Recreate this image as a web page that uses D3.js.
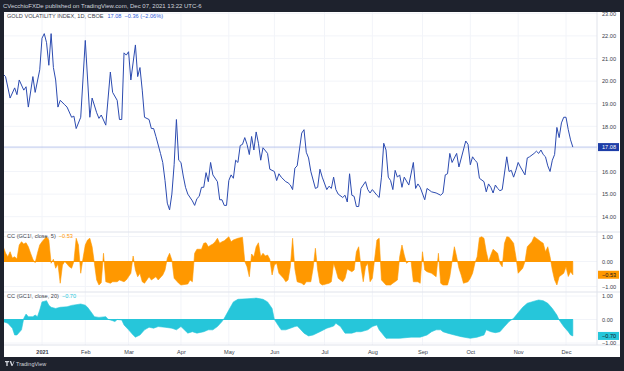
<html>
<head>
    <title>Gold volatility index</title>
    <script src="https://cdn.jsdelivr.net/npm/d3@7"></script>
    <style>
        body { margin: 0; background: #1e222d; }
        svg { display: block; font-family: "Liberation Sans", Arial, sans-serif; }
    </style>
</head>
<body>
    <svg id="chart"></svg>
<script>
//Global Variables
const WIDTH = 624
const HEIGHT = 371
const FRAME_COLOR = "#1e222d"
const LINE_COLOR = "#2c4bb0"
const CC5_COLOR = "#ff9800"
const CC20_COLOR = "#26c6da"
const GRID_COLOR = "#f2f4f9"
const BORDER_COLOR = "#e0e3eb"
const TEXT_COLOR = "#3a3e4a"

// plot area (white) and panes
const PLOT = {left: 4, right: 620, top: 12, bottom: 357, scale: 597}
const PANES = {
    main: {top: 12, bottom: 232},
    cc5: {top: 232, bottom: 292},
    cc20: {top: 292, bottom: 345}
}

//-------------------------- Data (trading session index from Jan 4 2021, value) --------------------------
const monthLabels = ["2021", "Feb", "Mar", "Apr", "May", "Jun", "Jul", "Aug", "Sep", "Oct", "Nov", "Dec"]
const monthSessions = [0, 19, 38, 61, 82, 102, 124, 145, 167, 188, 209, 230]
const priceTicks = [14, 15, 16, 17, 18, 19, 20, 21, 22, 23]
const ccTicks = [1, 0, -1]

const gvz = [[-17,20.3],[-16,20.2],[-14,19.25],[-12,19.7],[-11,19.4],[-10,20.05],[-8,19.6],[-7,19.75],[-6,18.85],[-4,20.2],[-3,19.5],[-1,20.5],[0,21.9],[1,22.1],[2,21.7],[3,20.7],[4,22.1],[5,20.6],[6,20.05],[7,18.85],[8,19.15],[10,18.95],[11,18.85],[13,18.4],[14,18.45],[15,17.9],[17,18.4],[19,21.8],[21,18.4],[22,19.25],[24,18.6],[25,18.35],[26,18.5],[28,18.05],[30,20.4],[31,19.5],[33,19.15],[34,18.3],[35,18.3],[36,21.25],[37,21.15],[38,21.3],[39,20.05],[41,21.6],[42,20.2],[43,20.6],[44,19.6],[45,18.4],[47,18.3],[48,17.9],[49,17.9],[50,17.55],[52,16.8],[53,16.4],[54,15.6],[55,14.6],[56,14.3],[57,15.0],[58,16.3],[59,18.3],[60,16.5],[61,16.4],[62,15.8],[63,15.3],[64,15.0],[66,14.7],[67,14.5],[68,14.8],[69,14.9],[70,15.3],[71,15.3],[72,15.95],[73,15.55],[74,16.4],[75,15.85],[77,15.55],[78,14.75],[79,14.75],[80,14.5],[81,14.5],[82,15.6],[83,15.85],[84,15.7],[85,16.5],[86,16.4],[87,17.15],[88,17.2],[89,17.5],[90,17.2],[91,16.75],[92,17.55],[93,16.95],[94,17.75],[95,17.25],[96,16.5],[97,17.05],[99,16.8],[100,16.1],[102,16.0],[103,15.6],[104,15.9],[105,15.75],[107,15.55],[108,15.5],[109,15.4],[110,15.2],[111,16.15],[112,16.25],[114,17.7],[115,17.85],[116,16.85],[117,16.6],[118,16.0],[120,15.25],[121,15.3],[122,16.1],[123,15.75],[125,15.2],[126,15.35],[127,15.25],[128,15.75],[129,15.2],[130,15.0],[132,14.85],[133,14.95],[134,14.65],[135,15.9],[136,14.95],[137,14.9],[138,14.45],[139,14.45],[140,15.25],[142,15.55],[143,15.2],[144,15.05],[145,15.2],[147,14.95],[148,14.85],[149,15.75],[150,17.25],[151,16.95],[152,15.75],[153,15.6],[154,15.2],[155,16.05],[156,15.75],[157,15.85],[158,15.3],[159,15.75],[161,15.4],[163,16.4],[164,15.25],[165,15.45],[166,15.3],[168,14.75],[169,15.25],[171,15.1],[173,15.05],[175,14.95],[176,15.05],[177,15.85],[178,15.9],[179,16.8],[180,16.4],[182,16.8],[183,16.2],[186,17.35],[187,17.2],[188,16.3],[189,16.65],[190,16.5],[191,16.4],[192,15.7],[194,15.55],[195,15.1],[196,15.45],[197,15.3],[198,15.05],[199,15.4],[200,15.25],[201,15.15],[202,15.2],[204,16.65],[205,16.0],[206,16.05],[207,15.75],[208,16.05],[209,16.4],[210,16.2],[212,15.85],[213,16.6],[214,16.65],[216,16.8],[217,16.9],[218,16.8],[219,16.95],[220,16.75],[221,16.65],[222,16.25],[223,16.0],[224,16.5],[225,16.75],[226,17.95],[227,17.5],[228,18.15],[229,18.4],[230,18.4],[231,17.85],[232,17.4],[233,17.08]]

const cc5 = [[-17,0.59],[-16,0.34],[-15,0.19],[-14,0.39],[-13,0.14],[-12,0.19],[-11,0.1],[-10,0.66],[-9,0.79],[-8,0.7],[-7,0.75],[-6,0.59],[-5,0.33],[-4,0.09],[-3,-0.05],[-2,0.33],[-1,0.66],[0,0.79],[1,0.9],[2,0.99],[3,0.86],[4,-0.07],[5,0.09],[6,-0.27],[7,-0.1],[8,-0.87],[9,-0.14],[10,0],[11,-0.1],[12,-0.21],[13,-0.27],[14,0],[15,0.93],[16,0.66],[17,-0.47],[18,0.13],[19,0.66],[20,0.86],[21,0.93],[22,0.59],[23,-0.07],[24,-0.74],[25,-0.94],[26,-0.85],[27,0.33],[28,-0.81],[30,-0.87],[31,-0.81],[33,-0.81],[34,-0.74],[36,-0.81],[37,-0.74],[39,-0.47],[40,0.22],[41,-0.34],[42,-0.61],[43,-0.47],[44,-0.81],[45,-0.87],[47,-0.61],[48,-0.74],[50,-0.61],[51,-0.74],[53,-0.54],[54,-0.34],[55,0.13],[56,0.33],[57,0.06],[58,-0.67],[60,-0.87],[61,-0.94],[64,-0.9],[65,-0.74],[66,-0.81],[67,0.33],[68,0.49],[70,0.49],[71,0.73],[72,0.75],[73,0.59],[74,0.65],[75,0.7],[76,0.79],[77,0.93],[78,0.73],[79,0.79],[80,0.83],[82,0.99],[83,0.79],[84,0.86],[86,0.93],[88,0.97],[89,0],[90,-0.21],[91,-0.61],[92,0.3],[93,0.19],[94,0.59],[95,0.75],[96,0.19],[97,0.33],[98,0.22],[99,0.26],[100,0.09],[101,-0.54],[102,-0.14],[103,-0.07],[104,-0.47],[106,-0.67],[107,-0.81],[108,-0.74],[109,-0.21],[110,0.93],[111,-0.3],[112,-0.81],[114,-0.87],[115,-0.94],[116,-0.81],[118,-0.81],[119,-0.27],[120,0.53],[121,-0.34],[122,-0.87],[123,-0.94],[126,-0.87],[127,-0.81],[128,-0.07],[129,-0.34],[130,-0.67],[132,-0.81],[133,-0.67],[134,-0.3],[136,-0.41],[137,-0.34],[138,0.39],[139,0.59],[140,-0.2],[141,-0.81],[142,-0.21],[143,-0.07],[144,-0.81],[145,-0.67],[147,0.86],[148,0.93],[149,-0.74],[151,-0.94],[153,-0.94],[154,-0.87],[156,-0.74],[157,0.19],[158,0.66],[159,0.26],[160,-0.07],[161,0],[162,0],[163,-0.81],[165,-0.81],[166,-0.87],[167,0.39],[168,-0.34],[169,-0.41],[171,-0.47],[172,-0.54],[173,-0.61],[174,0.33],[175,-0.87],[176,-0.94],[178,-0.94],[179,-0.61],[180,0],[181,0.59],[182,0.19],[183,-0.27],[184,-0.54],[185,-0.87],[187,-0.81],[188,-0.67],[189,-0.47],[190,-0.07],[191,0.19],[192,0.95],[193,0.99],[194,0.93],[195,0.39],[196,0],[197,0.26],[198,0.49],[200,0.33],[201,-0.07],[202,-0.21],[203,0.73],[204,0.99],[205,0.97],[207,0.73],[208,0.19],[209,-0.47],[211,-0.27],[212,0],[213,0.59],[215,0.79],[216,0.99],[217,0.93],[219,0.79],[220,0.73],[221,0.39],[222,0.59],[223,0.19],[224,-0.34],[225,-0.74],[226,-0.94],[227,-0.61],[229,-0.47],[230,-0.21],[231,-0.6],[232,-0.41],[233,-0.53]]

const cc20 = [[-17,-0.09],[-15,-0.16],[-13,-0.37],[-12,-0.66],[-11,-0.66],[-9,-0.44],[-8,0.05],[-7,0.23],[-6,0.12],[-4,0.12],[-3,0.19],[-2,0.12],[-1,0.4],[0,0.75],[2,0.8],[3,0.61],[4,0.52],[6,0.47],[8,0.52],[11,0.54],[13,0.6],[17,0.66],[19,0.61],[20,0.52],[22,0.26],[23,0.12],[25,0.09],[28,0.12],[29,0.01],[31,-0.05],[32,-0.09],[33,0],[35,-0.02],[36,-0.23],[38,-0.44],[40,-0.66],[41,-0.75],[43,-0.66],[45,-0.44],[47,-0.33],[49,-0.37],[51,-0.3],[54,-0.33],[57,-0.37],[59,-0.44],[61,-0.3],[64,-0.58],[66,-0.52],[68,-0.58],[71,-0.52],[73,-0.44],[75,-0.44],[77,-0.3],[79,-0.09],[80,0.05],[82,0.4],[84,0.75],[86,0.86],[90,0.88],[94,0.91],[97,0.86],[99,0.75],[101,0.47],[102,0],[104,-0.3],[105,-0.44],[107,-0.44],[109,-0.37],[111,-0.3],[112,-0.28],[113,-0.37],[115,-0.58],[117,-0.7],[119,-0.66],[122,-0.52],[125,-0.37],[128,-0.28],[129,-0.16],[131,-0.3],[133,-0.58],[136,-0.58],[138,-0.52],[140,-0.52],[143,-0.44],[145,-0.3],[147,-0.23],[148,-0.44],[151,-0.8],[154,-0.8],[157,-0.8],[162,-0.75],[166,-0.75],[169,-0.66],[171,-0.52],[173,-0.44],[175,-0.44],[176,-0.52],[178,-0.58],[181,-0.66],[184,-0.73],[188,-0.8],[191,-0.75],[194,-0.66],[195,-0.44],[197,-0.52],[199,-0.56],[201,-0.52],[203,-0.3],[205,-0.09],[207,0.05],[209,0.29],[211,0.52],[213,0.69],[216,0.78],[218,0.83],[220,0.8],[222,0.69],[224,0.47],[226,0.19],[227,-0.02],[229,-0.3],[231,-0.52],[232,-0.66],[233,-0.7]]

//-------------------------- Scales --------------------------
const xScale = d3.scaleLinear().domain([0, 230]).range([42, 566])
const yMain = d3.scaleLinear().domain([14, 23]).range([216.7, 13.3])
const yCC5 = d3.scaleLinear().domain([-1, 1]).range([286.5, 236.5])
const yCC20 = d3.scaleLinear().domain([-1, 1]).range([343, 296])

const fmt = d3.format(".2f")
const svg = d3.select("#chart").attr("width", WIDTH).attr("height", HEIGHT)

function drawFrame(){
    svg.append("rect").attr("width", WIDTH).attr("height", HEIGHT).attr("fill", FRAME_COLOR)
    svg.append("rect")
        .attr("x", PLOT.left).attr("y", PLOT.top)
        .attr("width", PLOT.right - PLOT.left).attr("height", PLOT.bottom - PLOT.top)
        .attr("fill", "#fff")

    svg.append("text")
        .attr("x", 3).attr("y", 8)
        .attr("font-size", 6).attr("fill", "#d1d4dc")
        .text("CVecchioFXDe published on TradingView.com, Dec 07, 2021 13:22 UTC-6")

    // footer logo
    const logo = svg.append("g").attr("transform", "translate(5,361)")
    logo.append("path").attr("d", "M0,0h4v1.3h-1.3v3.7h-1.4v-3.7h-1.3z").attr("fill", "#d1d4dc")
    logo.append("path").attr("d", "M4.6,0h1.5l1.4,3.4l1.4,-3.4h0.6l-2,5h-1z").attr("fill", "#d1d4dc")
    svg.append("text")
        .attr("x", 16).attr("y", 366)
        .attr("font-size", 5.5).attr("fill", "#d1d4dc")
        .text("TradingView")

    // clip paths for each pane
    const defs = svg.append("defs")
    Object.entries(PANES).forEach(([k, p]) => {
        defs.append("clipPath").attr("id", "clip-" + k)
            .append("rect")
            .attr("x", PLOT.left).attr("y", p.top)
            .attr("width", PLOT.scale - PLOT.left).attr("height", p.bottom - p.top)
    })
}

function drawGrid(){
    const grid = svg.append("g")
    // vertical month lines through all panes
    grid.selectAll(".vgrid").data(monthSessions).enter().append("line")
        .attr("x1", d => xScale(d)).attr("x2", d => xScale(d))
        .attr("y1", PANES.main.top).attr("y2", PANES.cc20.bottom)
        .attr("stroke", GRID_COLOR)
    grid.selectAll(".hgrid").data(priceTicks).enter().append("line")
        .attr("x1", PLOT.left).attr("x2", PLOT.scale)
        .attr("y1", d => yMain(d)).attr("y2", d => yMain(d))
        .attr("stroke", GRID_COLOR)
    ;[yCC5, yCC20].forEach(y => {
        grid.selectAll(null).data(ccTicks).enter().append("line")
            .attr("x1", PLOT.left).attr("x2", PLOT.scale)
            .attr("y1", d => y(d)).attr("y2", d => y(d))
            .attr("stroke", GRID_COLOR)
    })
    // pane borders
    ;[PANES.main.bottom, PANES.cc5.bottom, PANES.cc20.bottom].forEach(y => {
        grid.append("line")
            .attr("x1", PLOT.left).attr("x2", PLOT.right)
            .attr("y1", y).attr("y2", y)
            .attr("stroke", BORDER_COLOR)
    })
    grid.append("line")
        .attr("x1", PLOT.scale).attr("x2", PLOT.scale)
        .attr("y1", PLOT.top).attr("y2", PANES.cc20.bottom)
        .attr("stroke", BORDER_COLOR)
}

// price scale on the right; labels hidden behind the last-value box are skipped
function drawPriceScale(y, ticks, lastValue){
    const visible = ticks.filter(t => Math.abs(y(t) - y(lastValue)) > 7)
    const axis = d3.axisRight(y).tickValues(visible).tickFormat(fmt).tickSize(0)
    svg.append("g")
        .attr("transform", `translate(${PLOT.scale + 5},0)`)
        .call(axis)
        .call(s => s.select(".domain").remove())
        .selectAll("text").attr("font-size", 5.6).attr("fill", TEXT_COLOR).attr("x", 0)
}

function priceBox(y, label, fill, color){
    svg.append("rect")
        .attr("x", PLOT.scale + 1).attr("y", y - 4)
        .attr("width", 21).attr("height", 8)
        .attr("fill", fill)
    svg.append("text")
        .attr("x", PLOT.scale + 5).attr("y", y + 2)
        .attr("font-size", 5.6).attr("fill", color)
        .text(label)
}

function drawMain(){
    const g = svg.append("g").attr("clip-path", "url(#clip-main)")
    const last = gvz[gvz.length - 1]

    // last price line
    g.append("line")
        .attr("x1", PLOT.left).attr("x2", PLOT.scale)
        .attr("y1", yMain(last[1])).attr("y2", yMain(last[1]))
        .attr("stroke", "#b9c5ec").attr("stroke-width", 1)

    const line = d3.line().x(d => xScale(d[0])).y(d => yMain(d[1]))
    g.append("path").datum(gvz)
        .attr("d", line)
        .attr("fill", "none")
        .attr("stroke", LINE_COLOR)
        .attr("stroke-width", 1)
        .attr("stroke-linejoin", "round")

    // legend
    const legend = svg.append("text").attr("x", 7).attr("y", 18).attr("font-size", 5.6)
    legend.append("tspan").attr("fill", TEXT_COLOR).text("GOLD VOLATILITY INDEX, 1D, CBOE")
    legend.append("tspan").attr("dx", 4).attr("fill", "#2f5bd8").text(fmt(last[1]))
    legend.append("tspan").attr("dx", 3).attr("fill", "#2f5bd8").text("−0.36 (−2.06%)")

    drawPriceScale(yMain, priceTicks, last[1])
    priceBox(yMain(last[1]), fmt(last[1]), "#1e3ea8", "#fff")
}

function drawOsc(data, y, pane, color, name, textColor){
    const g = svg.append("g").attr("clip-path", `url(#clip-${pane})`)
    const area = d3.area()
        .x(d => xScale(d[0]))
        .y0(y(0))
        .y1(d => y(d[1]))
    g.append("path").datum(data)
        .attr("d", area)
        .attr("fill", color)
        .attr("stroke", color)
        .attr("stroke-width", 0.6)

    // zero line across the series
    g.append("line")
        .attr("x1", xScale(data[0][0])).attr("x2", xScale(data[data.length - 1][0]))
        .attr("y1", y(0)).attr("y2", y(0))
        .attr("stroke", color).attr("stroke-width", 1)

    const last = data[data.length - 1][1]
    const legend = svg.append("text").attr("x", 7).attr("y", PANES[pane].top + 6).attr("font-size", 5.6)
    legend.append("tspan").attr("fill", TEXT_COLOR).text(name)
    legend.append("tspan").attr("dx", 3).attr("fill", color).text(fmt(last))

    drawPriceScale(y, ccTicks, last)
    priceBox(y(last), fmt(last), color, textColor)
}

function drawTimeAxis(){
    const axis = d3.axisBottom(xScale)
        .tickValues(monthSessions)
        .tickFormat((d, i) => monthLabels[i])
        .tickSize(0)
    svg.append("g")
        .attr("transform", `translate(0,${PANES.cc20.bottom + 2})`)
        .call(axis)
        .call(s => s.select(".domain").remove())
        .selectAll("text")
            .attr("font-size", 5.6)
            .attr("fill", TEXT_COLOR)
            .attr("font-weight", (d, i) => i === 0 ? "bold" : "normal")
}

function main(){
    drawFrame()
    drawGrid()
    drawMain()
    drawOsc(cc5, yCC5, "cc5", CC5_COLOR, "CC (GC1!, close, 5)", "#131722")
    drawOsc(cc20, yCC20, "cc20", CC20_COLOR, "CC (GC1!, close, 20)", "#131722")
    drawTimeAxis()
}

main()
</script>
</body>
</html>
